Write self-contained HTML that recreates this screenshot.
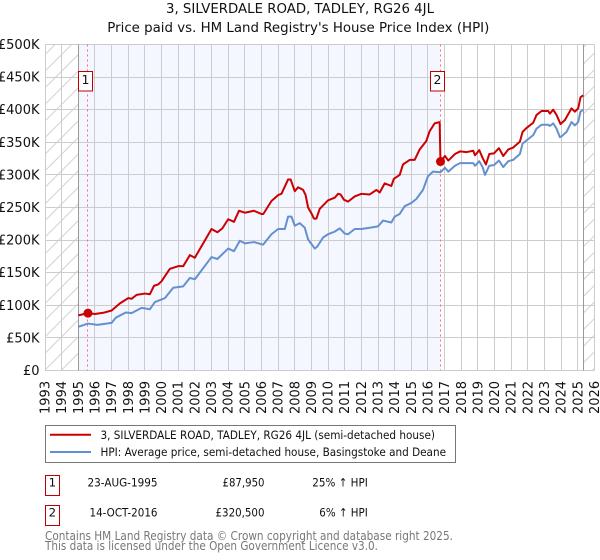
<!DOCTYPE html>
<html lang="en">
<head>
<meta charset="utf-8">
<title>3, SILVERDALE ROAD, TADLEY, RG26 4JL</title>
<style>
html,body{margin:0;padding:0;background:#fff;width:600px;height:560px;overflow:hidden}
svg{display:block;font-family:"DejaVu Sans","Liberation Sans",sans-serif}
</style>
</head>
<body>
<svg id="chart" xmlns="http://www.w3.org/2000/svg" width="600" height="560" viewBox="0 0 600 560">
  <defs>
    <pattern id="hatch" patternUnits="userSpaceOnUse" width="16.6" height="16.6">
      <path d="M-2 18.6 L18.6 -2 M-2 2 L2 -2 M14.6 18.6 L18.6 14.6" stroke="#c8c8c8" stroke-width="0.8" fill="none"/>
    </pattern>
  </defs>
  <rect width="600" height="560" fill="#fff"/>
  <text x="300" y="13" text-anchor="middle" font-size="13" textLength="268" lengthAdjust="spacingAndGlyphs" fill="#111">3, SILVERDALE ROAD, TADLEY, RG26 4JL</text>
  <text x="298.3" y="32" text-anchor="middle" font-size="13" textLength="382" lengthAdjust="spacingAndGlyphs" fill="#111">Price paid vs. HM Land Registry's House Price Index (HPI)</text>
  <g id="plot"></g>

  <g>
    <rect x="45.5" y="425.5" width="410" height="37" fill="#fff" stroke="#777" stroke-width="1"/>
    <line x1="50" x2="91" y1="434.7" y2="434.7" stroke="#cc0000" stroke-width="2"/>
    <text x="100.5" y="439" font-size="11.7" textLength="334.5" lengthAdjust="spacingAndGlyphs" fill="#111">3, SILVERDALE ROAD, TADLEY, RG26 4JL (semi-detached house)</text>
    <line x1="50" x2="91" y1="452" y2="452" stroke="#5f8fd2" stroke-width="2"/>
    <text x="100.5" y="456" font-size="11.7" textLength="345.5" lengthAdjust="spacingAndGlyphs" fill="#111">HPI: Average price, semi-detached house, Basingstoke and Deane</text>
  </g>

  <g font-size="11.7" fill="#111">
    <rect x="45.5" y="475.5" width="14" height="20" fill="#fff" stroke="#c00000" stroke-width="1"/>
    <text x="52.3" y="486.7" text-anchor="middle">1</text>
    <text x="157.5" y="486.7" text-anchor="end" textLength="70" lengthAdjust="spacingAndGlyphs">23-AUG-1995</text>
    <text x="264.5" y="486.7" text-anchor="end" textLength="42" lengthAdjust="spacingAndGlyphs">£87,950</text>
    <text x="367.8" y="486.7" text-anchor="end" textLength="55.5" lengthAdjust="spacingAndGlyphs">25% ↑ HPI</text>

    <rect x="45.5" y="505.5" width="14" height="20" fill="#fff" stroke="#c00000" stroke-width="1"/>
    <text x="52.3" y="516.7" text-anchor="middle">2</text>
    <text x="157.5" y="516.7" text-anchor="end" textLength="68" lengthAdjust="spacingAndGlyphs">14-OCT-2016</text>
    <text x="264.5" y="516.7" text-anchor="end" textLength="49" lengthAdjust="spacingAndGlyphs">£320,500</text>
    <text x="367.8" y="516.7" text-anchor="end" textLength="48.5" lengthAdjust="spacingAndGlyphs">6% ↑ HPI</text>
  </g>

  <g font-size="12" fill="#777">
    <text x="45" y="540" textLength="408" lengthAdjust="spacingAndGlyphs">Contains HM Land Registry data © Crown copyright and database right 2025.</text>
    <text x="45" y="550" textLength="333" lengthAdjust="spacingAndGlyphs">This data is licensed under the Open Government Licence v3.0.</text>
  </g>
</svg>
<script>
const yearTicks = [1993,1994,1995,1996,1997,1998,1999,2000,2001,2002,2003,2004,2005,2006,2007,2008,2009,2010,2011,2012,2013,2014,2015,2016,2017,2018,2019,2020,2021,2022,2023,2024,2025,2026];
const priceTicks = [0,50,100,150,200,250,300,350,400,450,500];
const priceTickLabels = ['£0','£50K','£100K','£150K','£200K','£250K','£300K','£350K','£400K','£450K','£500K'];

const paidDates = [1995.0,1995.58,1996,1996.5,1997,1997.5,1998,1998.2,1998.5,1999,1999.3,1999.55,1999.8,2000,2000.5,2001,2001.3,2001.7,2002,2002.5,2003,2003.35,2003.65,2004,2004.35,2004.65,2005,2005.55,2006,2006.11,2006.6,2007.0,2007.2,2007.6,2007.75,2008.0,2008.2,2008.5,2008.65,2008.8,2009.0,2009.15,2009.3,2009.5,2010,2010.4,2010.6,2010.75,2010.95,2011.2,2011.6,2012,2012.5,2012.9,2013.1,2013.4,2013.8,2013.95,2014.3,2014.5,2014.9,2015.2,2015.5,2015.9,2016.1,2016.4,2016.7,2016.75,2017.02,2017.22,2017.62,2017.92,2018.32,2018.72,2018.82,2019.08,2019.28,2019.48,2019.68,2019.96,2020.26,2020.52,2020.82,2021.12,2021.52,2021.68,2021.92,2022.32,2022.52,2022.82,2023.22,2023.32,2023.52,2023.72,2023.96,2024.22,2024.62,2024.82,2025.02,2025.16,2025.32];
const paidValues = [84.6,88,86.6,88.5,92,103,111,110,116,118,117,130,132,137,156,160,160,177,173,195,217,212,218,232,228,245,242,245,240,240,260,269,271,293,293,275,281,277,269,250,241,233,233,248,261,265,271,270,262,259,267,271,270,277,273,287,283,294,300,316,323,323,339,352,367,379,381,320.5,329,322,332,336,335,337,330,338,326,316,332,333,341,329,339,342,351,366,372,380,392,398,398,394,400,392,378,384,402,397,402,419,422];

const hpiDates = [1995.0,1995.58,1996.15,1997,1997.25,1997.85,1998.2,1998.8,1999.3,1999.6,2000.0,2000.2,2000.7,2001.3,2001.7,2002,2003,2003.35,2004,2004.35,2004.7,2005,2005.55,2006.1,2006.6,2007,2007.4,2007.6,2007.8,2008,2008.3,2008.6,2008.8,2009,2009.2,2009.35,2009.7,2010,2010.4,2010.7,2011,2011.2,2011.6,2012,2012.5,2013,2013.3,2013.8,2014,2014.3,2014.6,2015,2015.3,2015.7,2016.0,2016.3,2016.75,2017.02,2017.22,2017.62,2017.92,2018.72,2018.82,2019.08,2019.28,2019.42,2019.68,2019.96,2020.26,2020.52,2020.82,2021.12,2021.52,2021.68,2021.92,2022.32,2022.52,2022.82,2023.22,2023.32,2023.52,2023.72,2023.92,2024.02,2024.32,2024.62,2024.82,2025.02,2025.16,2025.32];
const hpiValues = [67,72,70,73,81,89,88,96,94,105,109,111,127,129,142,140,174,171,187,183,199,195,197,193,209,217,217,236,236,222,226,219,201,194,187,190,204,209,213,218,210,209,217,217,219,221,230,227,236,240,252,257,263,277,298,305,304,311,305,314,318,318,314,321,312,300,314,315,322,312,321,323,332,348,353,361,371,377,377,375,379,371,358,359,366,381,376,381,397,400];

const saleMonths = [1995.58,2016.75];
const salePrices = [87.95,320.5];
const saleLabels = ['1','2'];

const NS = 'http://www.w3.org/2000/svg';
const plot = document.getElementById('plot');
const xLeft = 45, xRight = 594.5, yTop = 44.5, yBottom = 370.5;
const xMin = 1993, xMax = 2026, yMax = 500;
function xScale(year){ return xLeft + (year - xMin) / (xMax - xMin) * (xRight - xLeft); }
function yScale(value){ return yBottom - value / yMax * (yBottom - yTop); }
function snap(v){ return Math.floor(v) + 0.5; }
function add(tag, attrs, text){
  const el = document.createElementNS(NS, tag);
  for (const k in attrs) el.setAttribute(k, attrs[k]);
  if (text !== undefined) el.textContent = text;
  plot.appendChild(el);
  return el;
}
const dataEnd = paidDates[paidDates.length - 1];

const preRegion = add('rect', {x:xLeft, y:yTop, width:xScale(1995)-xLeft, height:yBottom-yTop, fill:'url(#hatch)'});


const postRegion = add('rect', {x:xScale(dataEnd), y:yTop, width:xRight-xScale(dataEnd), height:yBottom-yTop, fill:'url(#hatch)'});


const shade = add('rect', {x:xScale(1995), y:yTop, width:xScale(saleMonths[1])-xScale(1995), height:yBottom-yTop, fill:'#f4f7ff'});



yearTicks.forEach(function(yr){
  const gx = snap(xScale(yr));
  const line = add('line', {x1:gx, x2:gx, y1:yTop, y2:yBottom, stroke:'#cccccc', 'stroke-width':1});
  
  
  const bx = xScale(yr) + 4.5;
  const label = add('text', {x:bx, y:414, 'font-size':13, fill:'#111', transform:'rotate(-90 '+bx+' 414)'}, String(yr));
  
  
});
priceTicks.forEach(function(v, i){
  const gy = snap(yScale(v));
  const line = add('line', {x1:xLeft, x2:xRight, y1:gy, y2:gy, stroke:'#cccccc', 'stroke-width':1});
  
  
  const label = add('text', {x:39.5, y:yScale(v)+4.5, 'font-size':13, fill:'#111', 'text-anchor':'end'}, priceTickLabels[i]);
  
  
});

const startLine = add('line', {x1:snap(xScale(1995)), x2:snap(xScale(1995)), y1:yTop, y2:yBottom, stroke:'#999999', 'stroke-width':1});


const endLine = add('line', {x1:snap(xScale(dataEnd)), x2:snap(xScale(dataEnd)), y1:yTop, y2:yBottom, stroke:'#999999', 'stroke-width':1});



saleMonths.forEach(function(m){
  const sx = snap(xScale(m));
  const line = add('line', {x1:sx, x2:sx, y1:yTop, y2:yBottom, stroke:'#ff6b6b', 'stroke-width':1, 'stroke-dasharray':'2 3'});
  
  
});

function toPoints(xs, ys){
  return xs.map(function(d, i){ return xScale(d).toFixed(2) + ',' + yScale(ys[i]).toFixed(2); }).join(' ');
}
const hpiLine = add('polyline', {points:toPoints(hpiDates, hpiValues), fill:'none', stroke:'#6490d0', 'stroke-width':2, 'stroke-linejoin':'round'});


const paidLine = add('polyline', {points:toPoints(paidDates, paidValues), fill:'none', stroke:'#cc0000', 'stroke-width':2, 'stroke-linejoin':'round'});



saleMonths.forEach(function(m, i){
  const dot = add('circle', {cx:xScale(m), cy:yScale(salePrices[i]), r:4.5, fill:'#cc0000'});
  
  
});
saleLabels.forEach(function(lab, i){
  const bx = i === 0 ? xScale(saleMonths[i]) - 9.5 : xScale(saleMonths[i]) - 10;
  const box = add('rect', {x:snap(bx), y:71.5, width:14, height:19.5, fill:'#fff', stroke:'#c00000', 'stroke-width':1});
  
  
  const t = add('text', {x:snap(bx)+7, y:84, 'font-size':12.5, fill:'#111', 'text-anchor':'middle'}, lab);
  
  
});
</script>
</body>
</html>
